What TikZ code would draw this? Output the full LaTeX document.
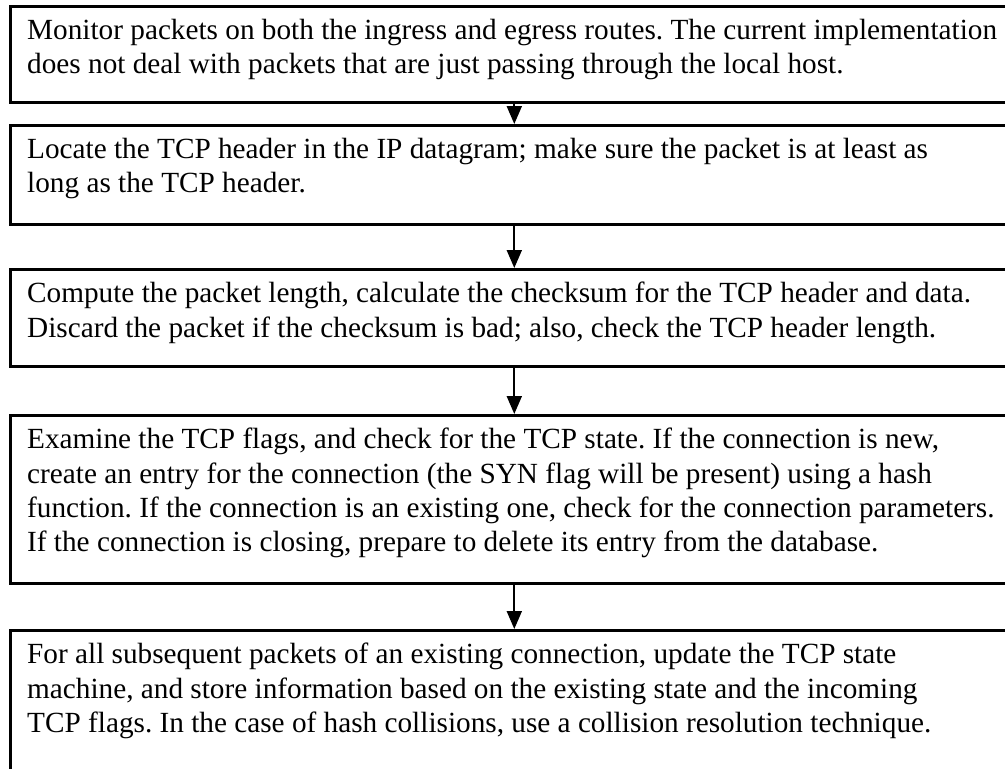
\documentclass[tikz,border=0pt]{standalone}
\usepackage{fontspec}
\setmainfont{Liberation Serif}
\usetikzlibrary{arrows.meta}
\begin{document}
\frenchspacing
\begin{tikzpicture}[x=1pt,y=-1pt,
  stagebox/.style={draw=black, line width=2.6pt, anchor=north west, inner sep=0pt,
    minimum width=1008pt},
  stagetext/.style={anchor=north west, inner sep=0pt, align=left,
    font=\fontsize{29.25pt}{34.2pt}\selectfont},
  flow/.style={line width=2pt, -{Triangle[width=15pt,length=18pt]}}]
  \useasboundingbox (0,0) rectangle (1005,769);
  % stage boxes
  \node[stagebox, minimum height=96pt]  (b1) at (9,5)   {};
  \node[stagebox, minimum height=99pt]  (b2) at (9,124) {};
  \node[stagebox, minimum height=97pt]  (b3) at (9,268) {};
  \node[stagebox, minimum height=168pt] (b4) at (9,414) {};
  \node[stagebox, minimum height=170pt] (b5) at (9,629) {};
  % stage descriptions
  \node[stagetext] (t1) at (27,19) {Monitor packets on both the ingress and egress routes. The current implementation\\does not deal with packets that are just passing through the local host.};
  \node[stagetext] (t2) at (27,138) {Locate the TCP header in the IP datagram; make sure the packet is at least as\\long as the TCP header.};
  \node[stagetext] (t3) at (27,282) {Compute the packet length, calculate the checksum for the TCP header and data.\\Discard the packet if the checksum is bad; also, check the TCP header length.};
  \node[stagetext] (t4) at (27,428) {Examine the TCP flags, and check for the TCP state. If the connection is new,\\create an entry for the connection (the SYN flag will be present) using a hash\\function. If the connection is an existing one, check for the connection parameters.\\If the connection is closing, prepare to delete its entry from the database.};
  \node[stagetext] (t5) at (27,643) {For all subsequent packets of an existing connection, update the TCP state\\machine, and store information based on the existing state and the incoming\\TCP flags. In the case of hash collisions, use a collision resolution technique.};
  % flow between stages
  \draw[flow] (b1.south) -- (b2.north);
  \draw[flow] (b2.south) -- (b3.north);
  \draw[flow] (b3.south) -- (b4.north);
  \draw[flow] (b4.south) -- (b5.north);
\end{tikzpicture}
\end{document}
